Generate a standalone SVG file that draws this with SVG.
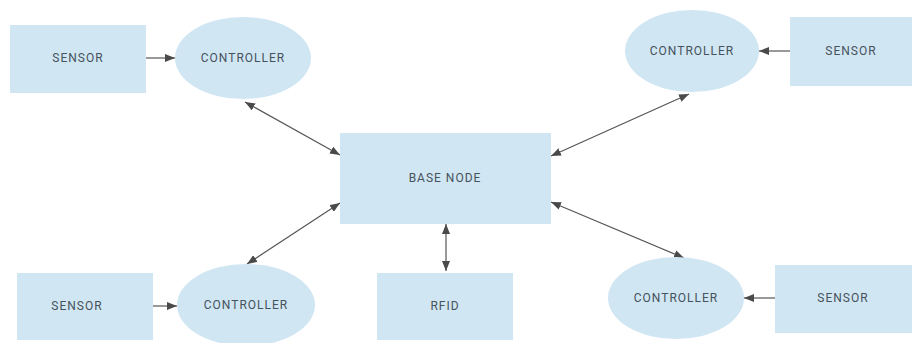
<svg xmlns="http://www.w3.org/2000/svg" width="914" height="343" viewBox="0 0 914 343">
<style>
.box{fill:#d0e6f3;}
.lbl{font-family:Roboto,"Liberation Sans",sans-serif;font-size:12px;fill:#46525c;letter-spacing:1px;text-anchor:middle;dominant-baseline:central;}
.c{stroke:#555;stroke-width:1.2;fill:none;marker-end:url(#ah);}
.b{marker-start:url(#ah);}
</style>
<defs>
<marker id="ah" viewBox="0 0 10 8" refX="10" refY="4" markerWidth="10" markerHeight="8" markerUnits="userSpaceOnUse" orient="auto-start-reverse">
<path d="M0,0 L10,4 L0,8 Z" fill="#4a4a4a"/>
</marker>
</defs>
<rect width="914" height="343" fill="#ffffff"/>
<g id="connectors">
<line class="c" x1="146" y1="58" x2="175" y2="58"/>
<line class="c" x1="790" y1="51" x2="759" y2="51"/>
<line class="c" x1="153" y1="306" x2="177" y2="306"/>
<line class="c" x1="775" y1="298" x2="744" y2="298"/>
<line class="c b" x1="245" y1="102" x2="340" y2="155"/>
<line class="c b" x1="551" y1="156" x2="689" y2="94"/>
<line class="c b" x1="340" y1="203" x2="247" y2="264"/>
<line class="c b" x1="551" y1="202" x2="684" y2="258"/>
<line class="c b" x1="446" y1="224" x2="446" y2="271"/>
</g>
<g id="sensor-tl"><rect class="box" x="10" y="25" width="136" height="68"/><text class="lbl" x="78" y="58">SENSOR</text></g>
<g id="controller-tl"><ellipse class="box" cx="243" cy="58" rx="68" ry="41"/><text class="lbl" x="243" y="58">CONTROLLER</text></g>
<g id="controller-tr"><ellipse class="box" cx="692" cy="51" rx="67" ry="41"/><text class="lbl" x="692" y="51">CONTROLLER</text></g>
<g id="sensor-tr"><rect class="box" x="790" y="17" width="122" height="69"/><text class="lbl" x="851" y="51">SENSOR</text></g>
<g id="base-node"><rect class="box" x="340" y="133" width="211" height="91"/><text class="lbl" x="445" y="178">BASE NODE</text></g>
<g id="sensor-bl"><rect class="box" x="17" y="273" width="136" height="67"/><text class="lbl" x="77" y="306">SENSOR</text></g>
<g id="controller-bl"><ellipse class="box" cx="246" cy="305" rx="69" ry="41"/><text class="lbl" x="246" y="305">CONTROLLER</text></g>
<g id="rfid"><rect class="box" x="377" y="273" width="136" height="67"/><text class="lbl" x="445" y="306">RFID</text></g>
<g id="controller-br"><ellipse class="box" cx="676" cy="298" rx="68" ry="41"/><text class="lbl" x="676" y="298">CONTROLLER</text></g>
<g id="sensor-br"><rect class="box" x="775" y="265" width="137" height="68"/><text class="lbl" x="843" y="298">SENSOR</text></g>
</svg>
